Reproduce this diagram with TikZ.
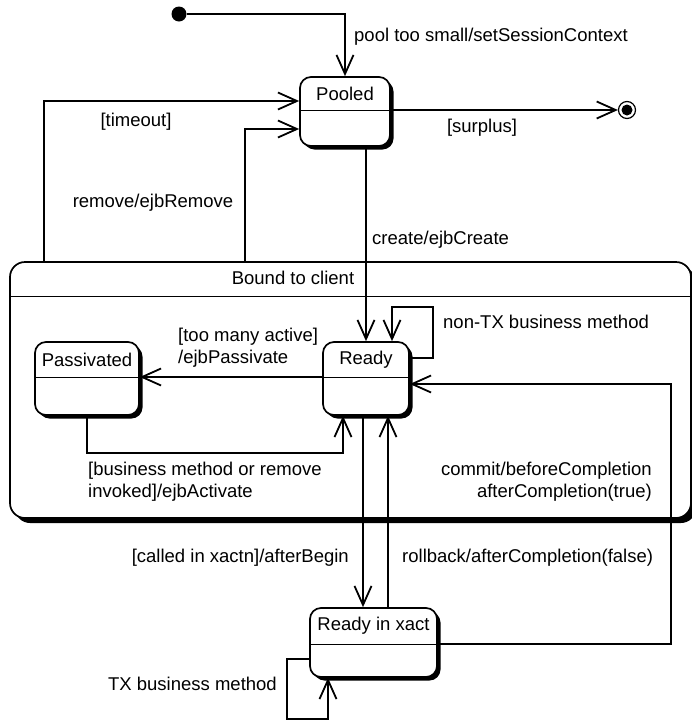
\documentclass[tikz,border=0pt]{standalone}
\usepackage{fontspec}
\setmainfont{Liberation Sans}
\usetikzlibrary{arrows.meta,shadows,calc}
\begin{document}
\begin{tikzpicture}[x=1pt,y=-1pt,
  every node/.style={font=\fontsize{18.5}{22}\selectfont},
  state/.style={draw, line width=1.7pt, fill=white, rounded corners=11pt, inner sep=0pt,
    general shadow={fill=black, shadow xshift=3.5pt, shadow yshift=-3.5pt}},
  superstate/.style={draw, line width=1.7pt, fill=white, rounded corners=15pt, inner sep=0pt,
    general shadow={fill=black, shadow xshift=5pt, shadow yshift=-5pt}},
  divider/.style={line width=0.9pt},
  conn/.style={line width=1.8pt, -{Straight Barb[length=19pt,width=17pt,line width=1.8pt]}},
  lbl/.style={inner sep=0pt, align=left},
]
\useasboundingbox (0,0) rectangle (692,721);
\clip (0,0) rectangle (692,721);

% composite state
\node[superstate, minimum width=681pt, minimum height=256pt] (bound) at (350.5,390) {};
\draw[divider] (bound.west |- 0,296) -- (bound.east |- 0,296);
\node[lbl] (boundname) at (293,278) {Bound to client};

% simple states
\node[state, minimum width=90pt, minimum height=69pt] (pooled) at (345,111.5) {};
\draw[divider] (pooled.west |- 0,110) -- (pooled.east |- 0,110);
\node[lbl] (pooledname) at (345,93.5) {Pooled};

\node[state, minimum width=104pt, minimum height=73pt] (passivated) at (87,378.5) {};
\draw[divider] (passivated.west |- 0,377) -- (passivated.east |- 0,377);
\node[lbl] (passivatedname) at (87,359.5) {Passivated};

\node[state, minimum width=86pt, minimum height=73pt] (ready) at (366,378.5) {};
\draw[divider] (ready.west |- 0,377) -- (ready.east |- 0,377);
\node[lbl] (readyname) at (366,359.5) {Ready};

\node[state, minimum width=127pt, minimum height=69pt] (xact) at (373.5,642.5) {};
\draw[divider] (xact.west |- 0,644) -- (xact.east |- 0,644);
\node[lbl] (xactname) at (373.5,626) {Ready in xact};

% pseudo states
\node[circle, fill=black, inner sep=0pt, minimum size=15pt] (init) at (179,14) {};
\node[circle, draw, line width=1.2pt, inner sep=0pt, minimum size=17pt] (final) at (627,110) {};
\node[circle, fill=black, inner sep=0pt, minimum size=11pt] (finaldot) at (final) {};

% transitions
\draw[conn] (init) -| (pooled.north);
\draw[conn] (pooled.east |- final) -- (final);
\draw[conn] (bound.north -| 44,0) |- (pooled.west |- 0,101);
\draw[conn] (bound.north -| 245,0) |- (pooled.west |- 0,129);
\draw[conn] (pooled.south -| ready.north) -- (ready.north);
\draw[conn] (ready.west |- 0,377) -- (passivated.east |- 0,377);
\draw[conn] (passivated.south) -- ++(0,37) -| ($(ready.south)+(-23,0)$);
\draw[conn] (ready.east |- 0,358) -| (433,307) -| (ready.north -| 392,0);
\draw[conn] (xact.east |- 0,644) -| (671,384) -- (ready.east |- 0,384);
\draw[conn] (ready.south -| 363,0) -- (xact.north -| 363,0);
\draw[conn] (xact.north -| 388,0) -- (ready.south -| 388,0);
\draw[conn] (xact.west |- 0,659) -| (287,719) -| (xact.south -| 328,0);

% transition labels
\node[lbl, anchor=west] (l1) at (354,37) {pool too small/setSessionContext};
\node[lbl] (l2) at (482,128) {[surplus]};
\node[lbl] (l3) at (136,122) {[timeout]};
\node[lbl] (l4) at (153,203) {remove/ejbRemove};
\node[lbl, anchor=west] (l5) at (372,240) {create/ejbCreate};
\node[lbl, anchor=west] (l6) at (178,347.5) {[too many active]\\/ejbPassivate};
\node[lbl, anchor=west] (l7) at (443,322) {non-TX business method};
\node[lbl, anchor=west] (l8) at (88,482) {[business method or remove\\invoked]/ejbActivate};
\node[lbl, anchor=east, align=right] (l9) at (652,482) {commit/beforeCompletion\\afterCompletion(true)};
\node[lbl, anchor=east] (l10) at (349,558) {[called in xactn]/afterBegin};
\node[lbl, anchor=west] (l11) at (402,558) {rollback/afterCompletion(false)};
\node[lbl, anchor=east] (l12) at (277,684) {TX business method};
\end{tikzpicture}
\end{document}
